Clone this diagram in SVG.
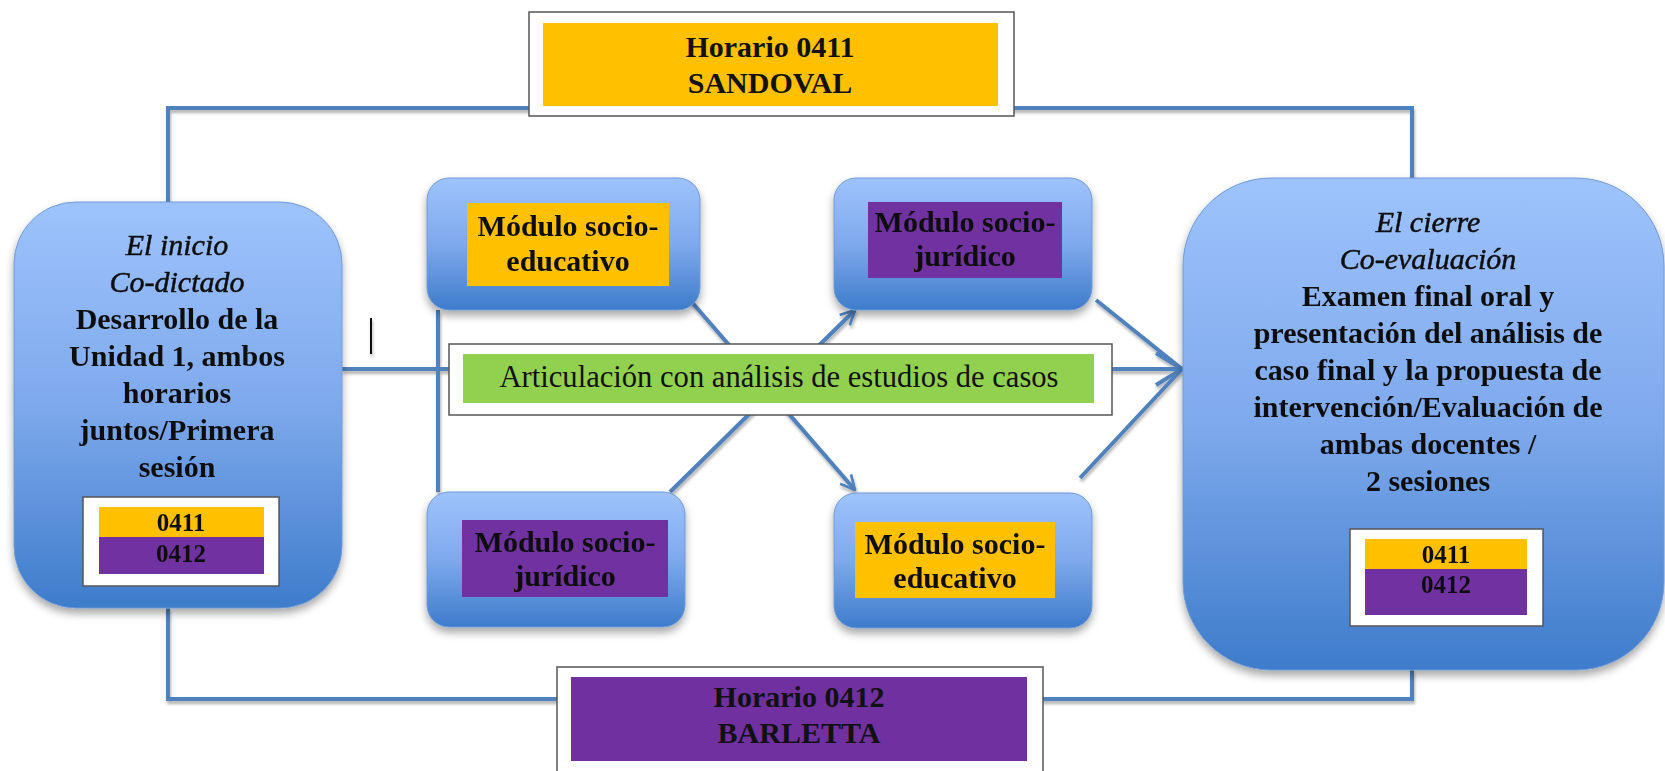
<svg xmlns="http://www.w3.org/2000/svg" width="1665" height="771" viewBox="0 0 1665 771">
<style>
.t{font-family:"Liberation Serif","Times New Roman",serif;font-size:30px;font-weight:bold;fill:#111;text-anchor:middle}
.i{font-style:italic;font-weight:normal;stroke:#111;stroke-width:0.5}
.r{font-weight:normal;font-size:30.6px}
.s{font-size:25px}
.blue{fill:url(#bg);stroke:#6d9ad8;stroke-width:1}
.frame{fill:#fff;stroke:#555;stroke-width:1.5}
.or{fill:#FFC000}
.pu{fill:#7030A0}
.gr{fill:#92D050}
.c{fill:none;stroke:#4f81bd;stroke-width:4}
</style>
<defs>
<linearGradient id="bg" x1="0" y1="0" x2="0" y2="1">
<stop offset="0" stop-color="#9ec3fc"/>
<stop offset="0.5" stop-color="#7ea9ec"/>
<stop offset="1" stop-color="#3e7ccb"/>
</linearGradient>
<filter id="sh" x="-10%" y="-10%" width="120%" height="125%">
<feDropShadow dx="0" dy="5" stdDeviation="4" flood-color="#000" flood-opacity="0.35"/>
</filter>
<filter id="lsh" x="-5%" y="-5%" width="110%" height="110%">
<feDropShadow dx="1" dy="3" stdDeviation="1.5" flood-color="#000" flood-opacity="0.3"/>
</filter>
<marker id="a" viewBox="0 0 20 20" refX="19" refY="10" markerWidth="18" markerHeight="18" markerUnits="userSpaceOnUse" orient="auto">
<path d="M3,2 L19,10 L3,18" fill="none" stroke="#4f81bd" stroke-width="3"/>
</marker>
<marker id="ab" viewBox="0 0 20 20" refX="19" refY="10" markerWidth="40" markerHeight="40" markerUnits="userSpaceOnUse" orient="auto">
<path d="M6,2 L19,10 L6,18" fill="none" stroke="#4f81bd" stroke-width="2"/>
</marker>
</defs>
<rect width="1665" height="771" fill="#fff"/>
<g id="connectors" filter="url(#lsh)">
<path class="c" d="M168,202 V108 H1412 V178"/>
<path class="c" d="M168,608 V699 H1412 V670"/>
<path class="c" d="M342,369 H1182" marker-end="url(#ab)"/>
<path class="c" d="M438,310 V492"/>
<path class="c" d="M690,300 L855,490" marker-end="url(#a)"/>
<path class="c" d="M670,492 L855,310" marker-end="url(#a)"/>
<path class="c" d="M1096,300 L1182,369"/>
<path class="c" d="M1080,478 L1182,369"/>
<line x1="371" y1="318" x2="371" y2="354" stroke="#111" stroke-width="2"/>
</g>
<g id="horario0411">
<rect class="frame" x="529" y="12" width="485" height="104"/>
<rect class="or" x="543" y="23" width="455" height="83"/>
<text class="t" x="770" y="57">Horario 0411</text>
<text class="t" x="770" y="93">SANDOVAL</text>
</g>
<g id="horario0412">
<rect class="frame" x="557" y="667" width="486" height="115"/>
<rect class="pu" x="571" y="677" width="456" height="84"/>
<text class="t" x="799" y="707">Horario 0412</text>
<text class="t" x="799" y="743">BARLETTA</text>
</g>
<g id="inicio" filter="url(#sh)">
<rect class="blue" x="14" y="202" width="328" height="406" rx="62"/>
<text class="t i" x="177" y="255">El inicio</text>
<text class="t i" x="177" y="292">Co-dictado</text>
<text class="t" x="177" y="329">Desarrollo de la</text>
<text class="t" x="177" y="366">Unidad 1, ambos</text>
<text class="t" x="177" y="403">horarios</text>
<text class="t" x="177" y="440">juntos/Primera</text>
<text class="t" x="177" y="477">sesión</text>
<rect class="frame" x="83" y="497" width="196" height="89"/>
<rect class="or" x="99" y="507" width="165" height="30"/>
<rect class="pu" x="99" y="537" width="165" height="37"/>
<text class="t s" x="181" y="531">0411</text>
<text class="t s" x="181" y="562">0412</text>
</g>
<g id="mod-tl" filter="url(#sh)">
<rect class="blue" x="427" y="178" width="273" height="132" rx="22"/>
<rect class="or" x="467" y="203" width="202" height="83"/>
<text class="t" x="568" y="236">Módulo socio-</text>
<text class="t" x="568" y="271">educativo</text>
</g>
<g id="mod-tr" filter="url(#sh)">
<rect class="blue" x="834" y="178" width="258" height="132" rx="22"/>
<rect class="pu" x="868" y="202" width="194" height="76"/>
<text class="t" x="965" y="232">Módulo socio-</text>
<text class="t" x="965" y="266">jurídico</text>
</g>
<g id="mod-bl" filter="url(#sh)">
<rect class="blue" x="427" y="492" width="258" height="135" rx="22"/>
<rect class="pu" x="462" y="520" width="206" height="77"/>
<text class="t" x="565" y="552">Módulo socio-</text>
<text class="t" x="565" y="586">jurídico</text>
</g>
<g id="mod-br" filter="url(#sh)">
<rect class="blue" x="834" y="493" width="258" height="135" rx="22"/>
<rect class="or" x="855" y="522" width="200" height="76"/>
<text class="t" x="955" y="554">Módulo socio-</text>
<text class="t" x="955" y="588">educativo</text>
</g>
<g id="articulacion">
<rect class="frame" x="449" y="344" width="663" height="71"/>
<rect class="gr" x="463" y="354" width="631" height="49"/>
<text class="t r" x="779" y="387">Articulación con análisis de estudios de casos</text>
</g>
<g id="cierre" filter="url(#sh)">
<rect class="blue" x="1183" y="178" width="481" height="492" rx="88"/>
<text class="t i" x="1428" y="232">El cierre</text>
<text class="t i" x="1428" y="269">Co-evaluación</text>
<text class="t" x="1428" y="306">Examen final oral y</text>
<text class="t" x="1428" y="343">presentación del análisis de</text>
<text class="t" x="1428" y="380">caso final y la propuesta de</text>
<text class="t" x="1428" y="417">intervención/Evaluación de</text>
<text class="t" x="1428" y="454">ambas docentes /</text>
<text class="t" x="1428" y="491">2 sesiones</text>
<rect class="frame" x="1350" y="529" width="193" height="97"/>
<rect class="or" x="1365" y="539" width="162" height="30"/>
<rect class="pu" x="1365" y="569" width="162" height="46"/>
<text class="t s" x="1446" y="563">0411</text>
<text class="t s" x="1446" y="593">0412</text>
</g>
</svg>
